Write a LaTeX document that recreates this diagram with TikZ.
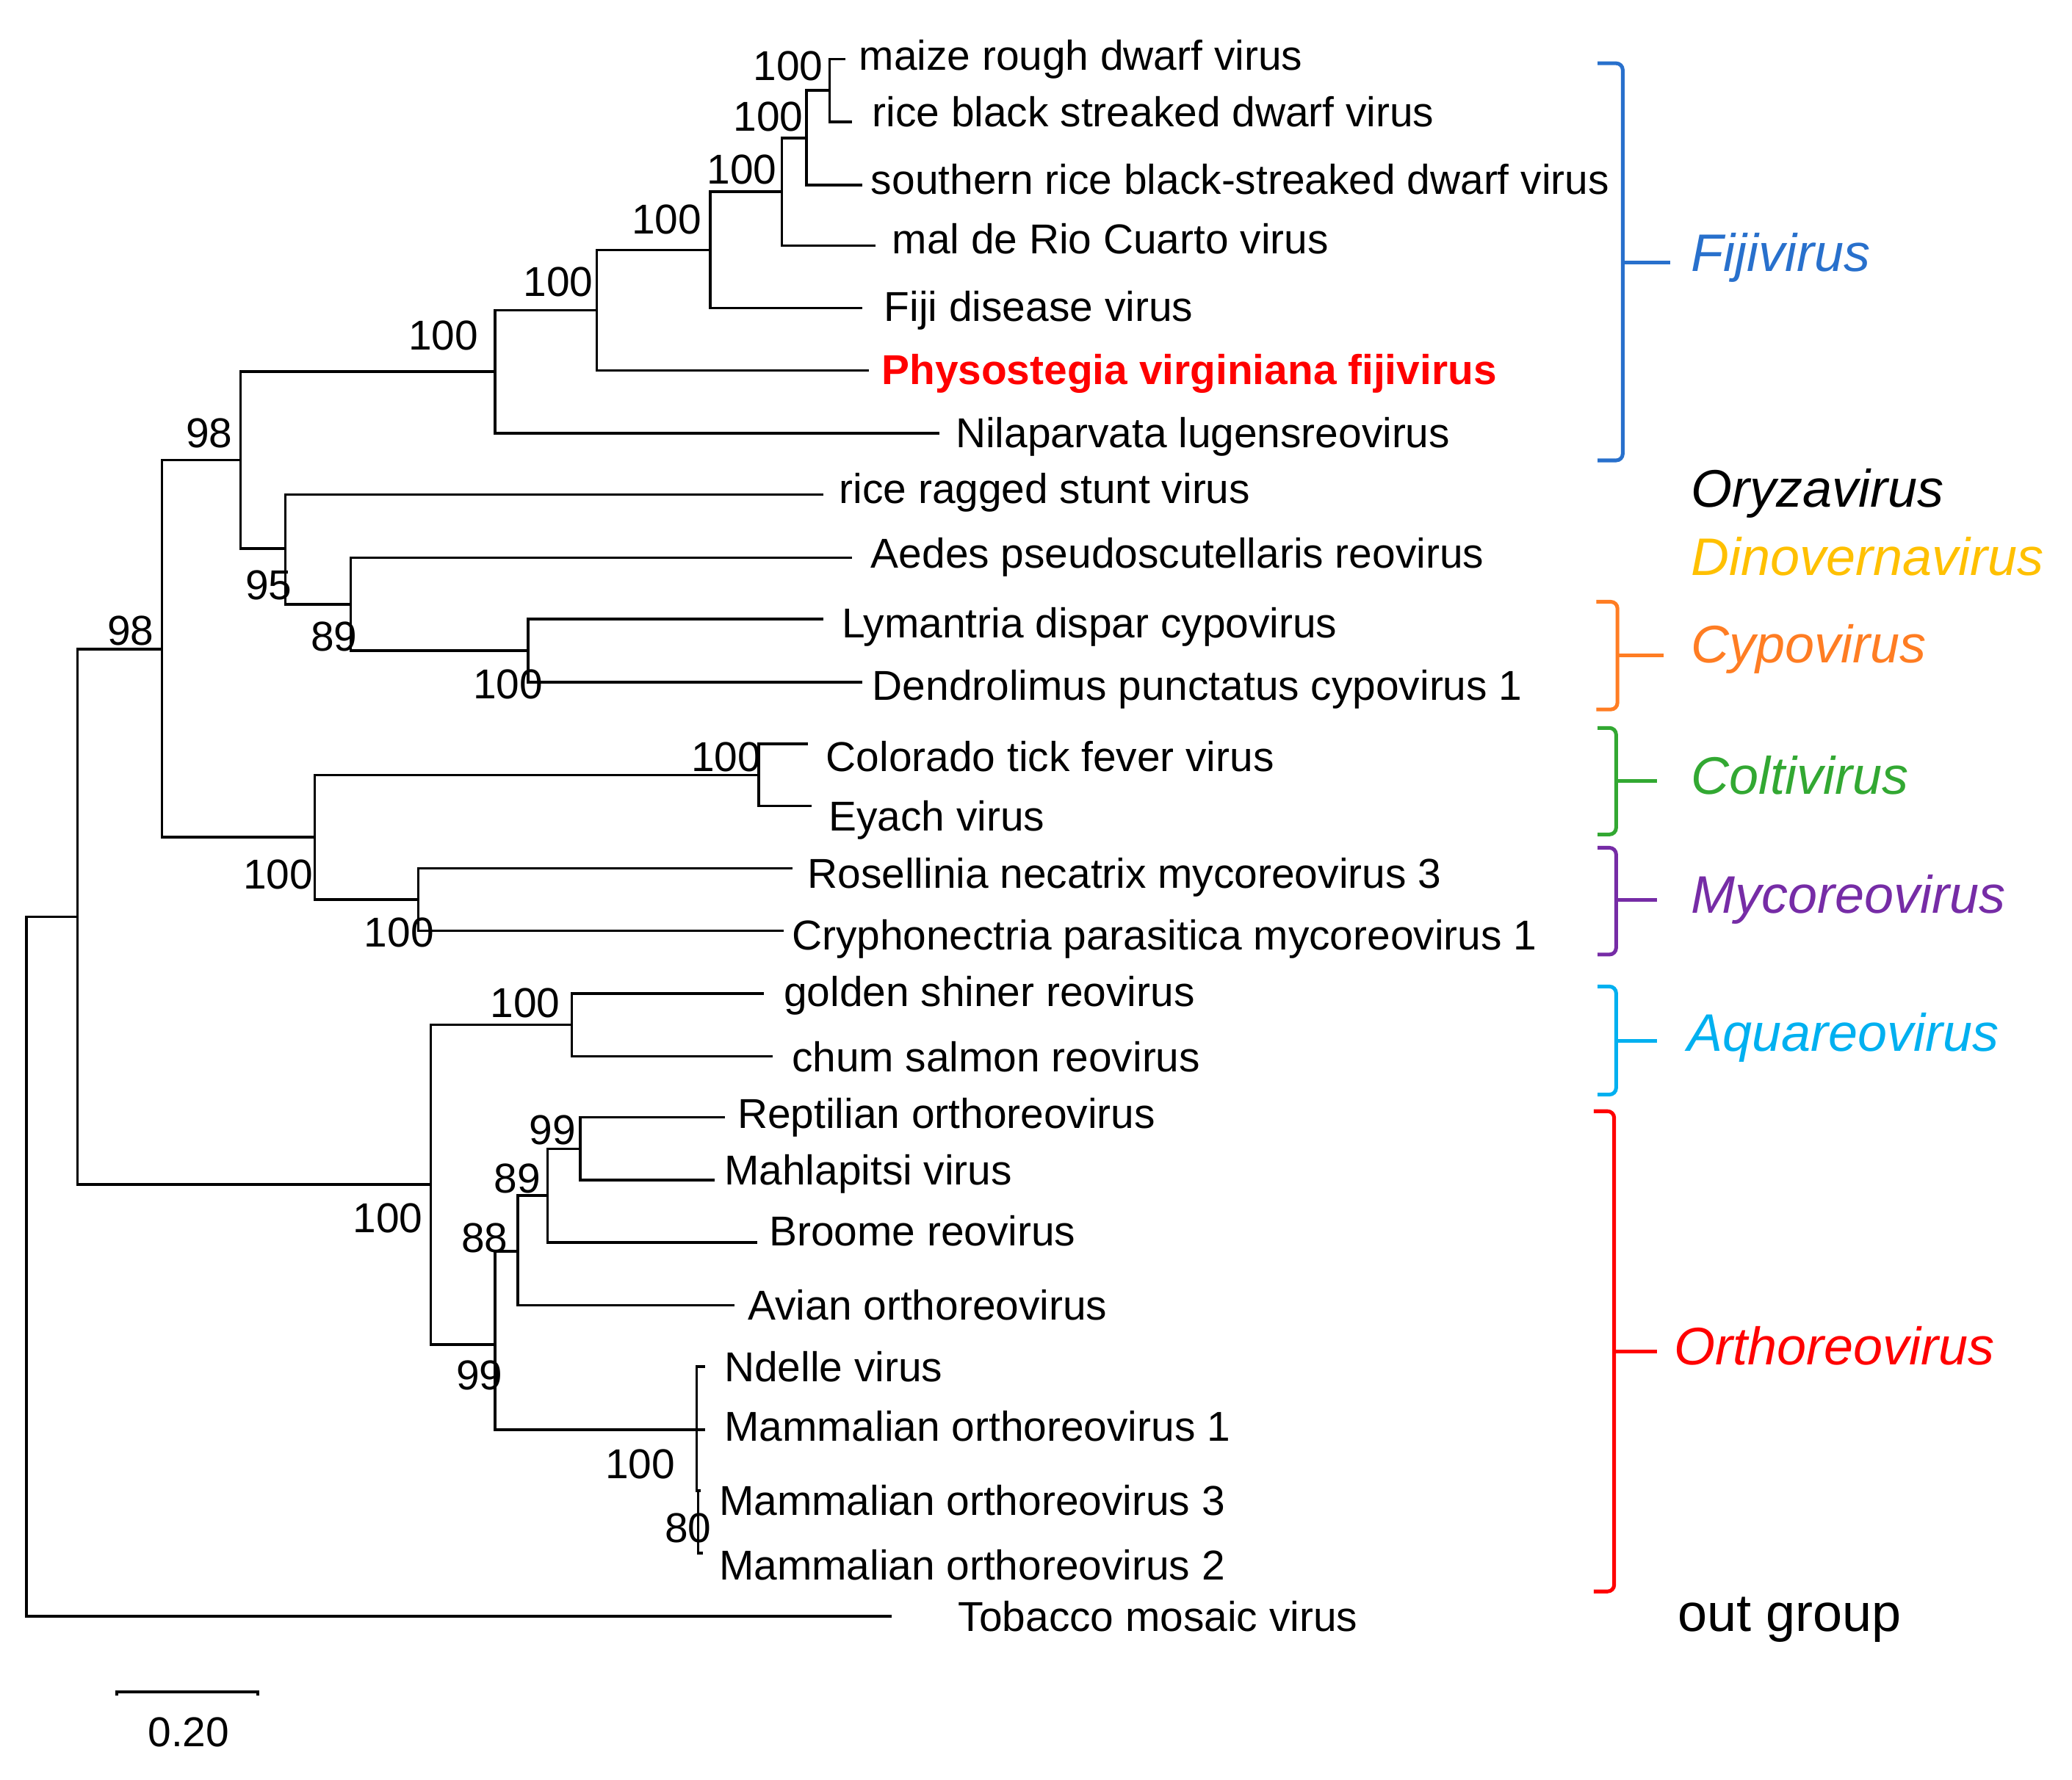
\documentclass[tikz,border=0pt]{standalone}
\usepackage{fontspec}
\setmainfont{Liberation Sans}
\usepackage{xcolor}

\definecolor{fijiblue}{RGB}{40,112,204}
\definecolor{dinogold}{RGB}{255,192,0}
\definecolor{cypoorange}{RGB}{255,125,35}
\definecolor{coltigreen}{RGB}{50,168,50}
\definecolor{mycopurple}{RGB}{118,44,166}
\definecolor{aquacyan}{RGB}{0,176,240}
\definecolor{orthored}{RGB}{255,0,0}

\begin{document}
\begin{tikzpicture}[x=1pt,y=-1pt,
    branch/.style={line width=2pt},
    leaf/.style={anchor=base west, inner sep=0pt, font=\fontsize{31.6}{36}\selectfont},
    boot/.style={anchor=base east, inner sep=0pt, font=\fontsize{31.6}{36}\selectfont},
    genus/.style={anchor=base west, inner sep=0pt, font=\fontsize{40}{46}\selectfont\itshape},
    bracket/.style={line width=2.8pt, rounded corners=5pt}]
  \useasboundingbox (0,0) rectangle (1568,1347);

  % Internal nodes
  \coordinate (root) at (19.9,958.7);
  \coordinate (nO) at (58.6,694);
  \coordinate (nH) at (122.6,491.3);
  \coordinate (nG) at (182.1,348.3);
  \coordinate (nF) at (374.7,281.4);
  \coordinate (nE) at (451.6,234.8);
  \coordinate (nD) at (537.5,189.2);
  \coordinate (nC) at (591.6,145.2);
  \coordinate (nB) at (610.4,104.4);
  \coordinate (nA) at (627.8,68.5);
  \coordinate (nI) at (215.9,415.1);
  \coordinate (nJ) at (265.5,457.3);
  \coordinate (nK) at (399.5,492.5);
  \coordinate (nN) at (238.2,633.8);
  \coordinate (nL) at (574.2,586.6);
  \coordinate (nP) at (316.6,680.9);
  \coordinate (nR) at (326,896.7);
  \coordinate (nQ) at (432.8,775.7);
  \coordinate (nV) at (374.7,1017.7);
  \coordinate (nU) at (392,947.1);
  \coordinate (nT) at (414.4,905);
  \coordinate (nS) at (439.2,869.5);
  \coordinate (nW) at (527.1,1082.1);
  \coordinate (nX) at (528.4,1128.4);

  % Branch tips
  \coordinate (t1) at (640,44.7);
  \coordinate (t2) at (645,92.3);
  \coordinate (t3) at (652.6,140.2);
  \coordinate (t4) at (662.6,186);
  \coordinate (t5) at (652.6,233.2);
  \coordinate (t6) at (657.6,280.4);
  \coordinate (t7) at (710.7,328);
  \coordinate (t8) at (622.9,374.4);
  \coordinate (t9) at (645,422.1);
  \coordinate (t10) at (622.9,468.7);
  \coordinate (t11) at (652.6,516.3);
  \coordinate (t12) at (611.4,563);
  \coordinate (t13) at (614,610.1);
  \coordinate (t14) at (599.5,657.3);
  \coordinate (t15) at (593,704.5);
  \coordinate (t16) at (578.2,751.9);
  \coordinate (t17) at (584.6,799.5);
  \coordinate (t18) at (548.4,845.6);
  \coordinate (t19) at (541,893.3);
  \coordinate (t20) at (573.2,940.4);
  \coordinate (t21) at (555.9,988);
  \coordinate (t22) at (533.6,1034.5);
  \coordinate (t23) at (533.6,1082.1);
  \coordinate (t24) at (530.5,1128.4);
  \coordinate (t25) at (532.1,1175.7);
  \coordinate (t26) at (675,1223.3);

  % Tree
  \foreach \p/\c in {root/nO, root/t26, nO/nH, nO/nR, nH/nG, nH/nN,
      nG/nF, nG/nI, nF/nE, nF/t7, nE/nD, nE/t6, nD/nC, nD/t5,
      nC/nB, nC/t4, nB/nA, nB/t3, nA/t1, nA/t2,
      nI/t8, nI/nJ, nJ/t9, nJ/nK, nK/t10, nK/t11,
      nN/nL, nN/nP, nL/t12, nL/t13, nP/t14, nP/t15,
      nR/nQ, nR/nV, nQ/t16, nQ/t17, nV/nU, nV/nW,
      nU/nT, nU/t21, nT/nS, nT/t20, nS/t18, nS/t19,
      nW/t22, nW/t23, nW/nX, nX/t24, nX/t25}
    \draw[branch] (\p) |- (\c);

  % Bootstrap values
  \node[boot] (bA) at (623,60.6) {100};
  \node[boot] (bB) at (608,99) {100};
  \node[boot] (bC) at (588,139) {100};
  \node[boot] (bD) at (531,177) {100};
  \node[boot] (bE) at (449,224) {100};
  \node[boot] (bF) at (362,265) {100};
  \node[boot] (bG) at (176,338.5) {98};
  \node[boot] (bH) at (116.6,488.4) {98};
  \node[boot] (bI) at (221,454) {95};
  \node[boot] (bJ) at (270.5,493) {89};
  \node[boot] (bK) at (411,529) {100};
  \node[boot] (bL) at (576,584) {100};
  \node[boot] (bN) at (237,673) {100};
  \node[boot] (bP) at (328.5,717) {100};
  \node[boot] (bQ) at (424,770) {100};
  \node[boot] (bR) at (320,933) {100};
  \node[boot] (bS) at (436,866) {99};
  \node[boot] (bT) at (409.4,903) {89};
  \node[boot] (bU) at (384.6,948) {88};
  \node[boot] (bV) at (380.7,1052) {99};
  \node[boot] (bW) at (511,1119) {100};
  \node[boot] (bX) at (538.5,1167.5) {80};

  % Taxa
  \node[leaf] (maize) at (650,53) {maize rough dwarf virus};
  \node[leaf] (rbsdv) at (660,96) {rice black streaked dwarf virus};
  \node[leaf] (srbsdv) at (659,147) {southern rice black-streaked dwarf virus};
  \node[leaf] (mrcv) at (675,192) {mal de Rio Cuarto virus};
  \node[leaf] (fdv) at (669,243) {Fiji disease virus};
  \node[leaf, text=orthored, font=\fontsize{31.6}{36}\selectfont\bfseries] (pvf) at (667,291) {Physostegia virginiana fijivirus};
  \node[leaf] (nlrv) at (723,339) {Nilaparvata lugensreovirus};
  \node[leaf] (rrsv) at (635,381) {rice ragged stunt virus};
  \node[leaf] (aprv) at (659,430) {Aedes pseudoscutellaris reovirus};
  \node[leaf] (ldcpv) at (637,483) {Lymantria dispar cypovirus};
  \node[leaf] (dpcpv) at (660,530) {Dendrolimus punctatus cypovirus 1};
  \node[leaf] (ctfv) at (625,584) {Colorado tick fever virus};
  \node[leaf] (eyav) at (627,629) {Eyach virus};
  \node[leaf] (rnmyrv) at (611,672) {Rosellinia necatrix mycoreovirus 3};
  \node[leaf] (cpmyrv) at (599,719) {Cryphonectria parasitica mycoreovirus 1};
  \node[leaf] (gsrv) at (593,762) {golden shiner reovirus};
  \node[leaf] (csrv) at (599,811) {chum salmon reovirus};
  \node[leaf] (rorv) at (558,854) {Reptilian orthoreovirus};
  \node[leaf] (mahv) at (548,897) {Mahlapitsi virus};
  \node[leaf] (brv) at (582,943) {Broome reovirus};
  \node[leaf] (aorv) at (566,999) {Avian orthoreovirus};
  \node[leaf] (ndev) at (548,1046) {Ndelle virus};
  \node[leaf] (morv1) at (548,1091) {Mammalian orthoreovirus 1};
  \node[leaf] (morv3) at (544,1147) {Mammalian orthoreovirus 3};
  \node[leaf] (morv2) at (544,1196) {Mammalian orthoreovirus 2};
  \node[leaf] (tmv) at (725,1235) {Tobacco mosaic virus};

  % Genus brackets
  \draw[bracket, fijiblue] (1209,47.9) -- (1228,47.9) -- (1228,348.5) -- (1209,348.5);
  \draw[bracket, fijiblue] (1228,198.5) -- (1264,198.5);
  \draw[bracket, cypoorange] (1208,455.5) -- (1224,455.5) -- (1224,537) -- (1208,537);
  \draw[bracket, cypoorange] (1224,496.3) -- (1259,496.3);
  \draw[bracket, coltigreen] (1209,551) -- (1223,551) -- (1223,631.6) -- (1209,631.6);
  \draw[bracket, coltigreen] (1223,591.2) -- (1254,591.2);
  \draw[bracket, mycopurple] (1209,641.7) -- (1223,641.7) -- (1223,722.5) -- (1209,722.5);
  \draw[bracket, mycopurple] (1223,681.1) -- (1254,681.1);
  \draw[bracket, aquacyan] (1209,746.7) -- (1223,746.7) -- (1223,828.5) -- (1209,828.5);
  \draw[bracket, aquacyan] (1223,788.1) -- (1254,788.1);
  \draw[bracket, orthored] (1206,841.1) -- (1221.5,841.1) -- (1221.5,1204.6) -- (1206,1204.6);
  \draw[bracket, orthored] (1221.5,1022.8) -- (1254,1022.8);

  % Genus names
  \node[genus, text=fijiblue] (fiji) at (1279.5,205.6) {Fijivirus};
  \node[genus] (oryza) at (1279.5,383.6) {Oryzavirus};
  \node[genus, text=dinogold] (dino) at (1279.5,435.3) {Dinovernavirus};
  \node[genus, text=cypoorange] (cypo) at (1279.5,501.6) {Cypovirus};
  \node[genus, text=coltigreen] (colti) at (1279.5,601.3) {Coltivirus};
  \node[genus, text=mycopurple] (myco) at (1279.5,691.2) {Mycoreovirus};
  \node[genus, text=aquacyan] (aqua) at (1277,795.7) {Aquareovirus};
  \node[genus, text=orthored] (ortho) at (1266.9,1033) {Orthoreovirus};
  \node[genus, font=\fontsize{40}{46}\selectfont] (outgrp) at (1269.4,1234.9) {out group};

  % Scale bar
  \coordinate (sbL) at (88.3,1280.6);
  \coordinate (sbR) at (195,1280.6);
  \draw[branch] ([yshift=-3pt]sbL) -- (sbL) -- (sbR) -- ([yshift=-3pt]sbR);
  \node[anchor=base, inner sep=0pt, font=\fontsize{31.6}{36}\selectfont] (sblabel) at (142.7,1322) {0.20};
\end{tikzpicture}
\end{document}
